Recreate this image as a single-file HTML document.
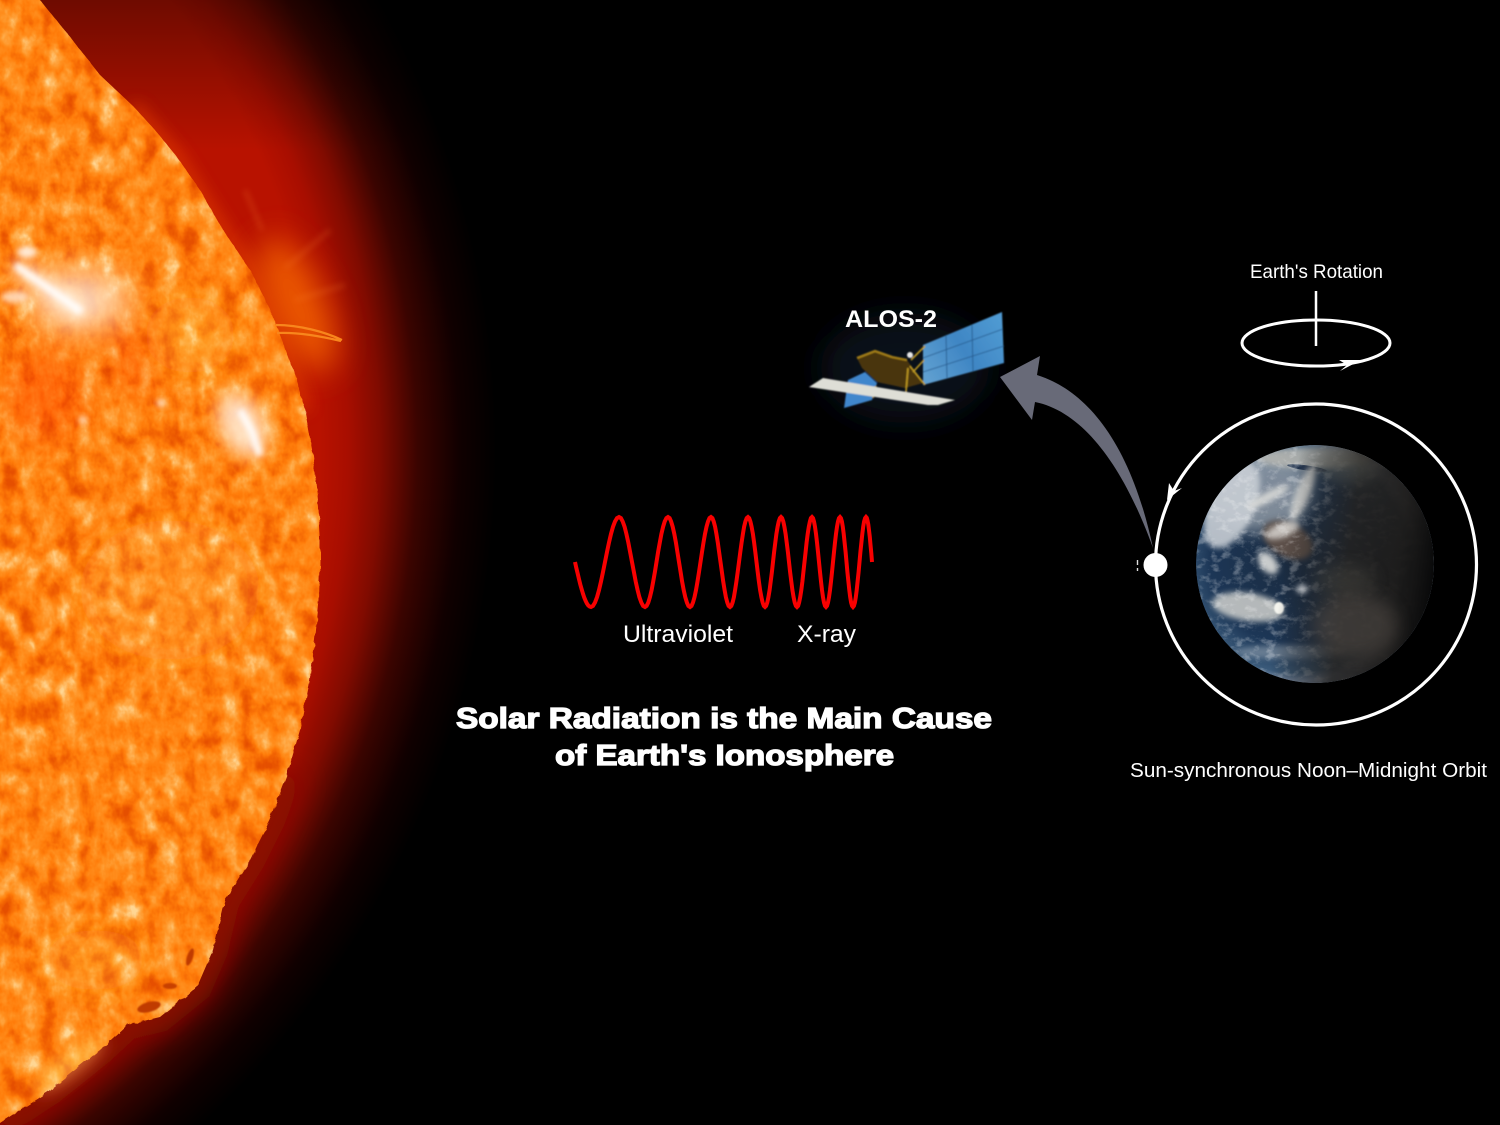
<!DOCTYPE html>
<html lang="en">
<head>
<meta charset="utf-8">
<title>Solar Radiation and Earth's Ionosphere</title>
<style>
html,body{margin:0;padding:0;background:#000;width:1500px;height:1125px;overflow:hidden}
svg{display:block}
text{font-family:"Liberation Sans",sans-serif;fill:#fff}
.mul{mix-blend-mode:multiply}
.scr{mix-blend-mode:screen}
</style>
</head>
<body>
<svg id="diagram" xmlns="http://www.w3.org/2000/svg" width="1500" height="1125" viewBox="0 0 1500 1125">
<defs>
  <radialGradient id="coronaGrad" gradientUnits="userSpaceOnUse" cx="-424" cy="450" r="930">
    <stop offset="0.75" stop-color="#b81200"/>
    <stop offset="0.80" stop-color="#b81200"/>
    <stop offset="0.83" stop-color="#a80e00"/>
    <stop offset="0.865" stop-color="#800b00"/>
    <stop offset="0.905" stop-color="#3a0400"/>
    <stop offset="0.95" stop-color="#100000"/>
    <stop offset="0.99" stop-color="#000"/>
  </radialGradient>
  <linearGradient id="topDarken" x1="0" y1="0" x2="0" y2="1">
    <stop offset="0" stop-color="#000" stop-opacity="0.4"/>
    <stop offset="1" stop-color="#000" stop-opacity="0"/>
  </linearGradient>
  <filter id="sunTexture" x="-5%" y="-5%" width="110%" height="110%" color-interpolation-filters="sRGB">
    <feTurbulence type="fractalNoise" baseFrequency="0.05 0.04" numOctaves="4" seed="23" result="noise"/>
    <feColorMatrix in="noise" type="matrix" values="0.95 0.95 0 0 -0.46  0.95 0.95 0 0 -0.46  0.95 0.95 0 0 -0.46  0 0 0 0 1"/>
    <feComponentTransfer result="colored">
      <feFuncR type="table" tableValues="0.90 0.95 1 1 1 1"/>
      <feFuncG type="table" tableValues="0.31 0.39 0.49 0.57 0.68 0.84"/>
      <feFuncB type="table" tableValues="0 0.01 0.04 0.13 0.30 0.58"/>
    </feComponentTransfer>
    <feTurbulence type="fractalNoise" baseFrequency="0.12" numOctaves="2" seed="5" result="edgeNoise"/>
    <feDisplacementMap in="SourceGraphic" in2="edgeNoise" scale="4" result="edge"/>
    <feComposite in="colored" in2="edge" operator="in"/>
  </filter>
  <filter id="blur1" x="-20%" y="-20%" width="140%" height="140%"><feGaussianBlur stdDeviation="0.7"/></filter>
  <filter id="blur3" x="-50%" y="-50%" width="200%" height="200%"><feGaussianBlur stdDeviation="3"/></filter>
  <filter id="blur8" x="-60%" y="-60%" width="220%" height="220%"><feGaussianBlur stdDeviation="8"/></filter>
  <filter id="blur16" x="-80%" y="-80%" width="260%" height="260%"><feGaussianBlur stdDeviation="16"/></filter>
  <filter id="blurLimb" x="-20%" y="-20%" width="140%" height="140%"><feGaussianBlur stdDeviation="14"/></filter>
  <filter id="cloudTexture" x="0" y="0" width="100%" height="100%" color-interpolation-filters="sRGB">
    <feTurbulence type="fractalNoise" baseFrequency="0.09 0.13" numOctaves="4" seed="7" result="noise"/>
    <feColorMatrix in="noise" type="matrix" values="0 0 0 0 1  0 0 0 0 1  0 0 0 0 1  3 3 0 0 -3"/>
    <feComposite in2="SourceAlpha" operator="in"/>
  </filter>
  <radialGradient id="oceanGrad" gradientUnits="userSpaceOnUse" cx="1295" cy="560" r="121">
    <stop offset="0" stop-color="#1a2a3e"/>
    <stop offset="0.7" stop-color="#1c3656"/>
    <stop offset="0.93" stop-color="#3a5a7a"/>
    <stop offset="1" stop-color="#7f93ae"/>
  </radialGradient>
  <linearGradient id="nightGrad" gradientUnits="userSpaceOnUse" x1="1285" y1="555" x2="1434" y2="575">
    <stop offset="0" stop-color="#1e1c1a" stop-opacity="0"/>
    <stop offset="0.2" stop-color="#22201e" stop-opacity="0.45"/>
    <stop offset="0.42" stop-color="#22201e" stop-opacity="0.88"/>
    <stop offset="0.75" stop-color="#1c1a18" stop-opacity="0.95"/>
    <stop offset="1" stop-color="#060606" stop-opacity="0.98"/>
  </linearGradient>
  <linearGradient id="panelGrad" gradientUnits="userSpaceOnUse" x1="925" y1="375" x2="1003" y2="325">
    <stop offset="0" stop-color="#5f9fd0"/>
    <stop offset="0.5" stop-color="#3f86c4"/>
    <stop offset="1" stop-color="#4f9ad2"/>
  </linearGradient>
  <clipPath id="earthClip"><circle cx="1315" cy="564" r="119"/></clipPath>
</defs>

<rect width="1500" height="1125" fill="#000"/>

<g>
  <rect x="0" y="0" width="700" height="1125" fill="url(#coronaGrad)"/>
  <rect x="0" y="0" width="700" height="150" fill="url(#topDarken)"/>
  <path d="M0,1123 L50,1090 L100,1050 L127,1025 L160,1017 L197,987 L213,950 L225,900 L250,860 L270,820 L287,775" fill="none" stroke="#8a0c00" stroke-width="30" filter="url(#blurLimb)"/>
  <path d="M133,106 L177,157 L220,225 L250,270 L282,340 L305,410" fill="none" stroke="#ea4400" stroke-width="10" opacity="0.75" filter="url(#blur8)"/>
  <ellipse cx="297" cy="305" rx="28" ry="72" fill="#f46400" opacity="0.85" filter="url(#blur16)" transform="rotate(-24 297 305)"/>
  <path d="M262,230 L245,190 M285,268 L330,230 M295,300 L345,285" stroke="#ff8a30" stroke-width="5" opacity="0.18" filter="url(#blur3)"/>
  <path id="sunDisc" d="M-12,-12 L32,-12 L40,0 L48,10 L67,33 L100,75 L133,106 L155,130 L177,157 L200,190 L220,225 L250,270 L268,305 L282,340 L295,375 L305,410 L313,455 L318,500 L320,535 L320,565 L319,600 L315,640 L309,685 L300,730 L287,775 L270,820 L250,860 L225,900 L213,950 L197,987 L160,1017 L127,1025 L100,1050 L50,1090 L0,1123 L-12,1123 Z" fill="#f07000" filter="url(#sunTexture)"/>
  <g>
    <ellipse class="mul" cx="45" cy="395" rx="40" ry="45" fill="#ffcc98" filter="url(#blur16)"/>
    <ellipse class="mul" cx="135" cy="355" rx="22" ry="40" fill="#ffd0a0" filter="url(#blur16)"/>
    <ellipse class="scr" cx="190" cy="335" rx="45" ry="38" fill="#502810" filter="url(#blur16)"/>
    <ellipse class="scr" cx="170" cy="590" rx="90" ry="70" fill="#301808" filter="url(#blur16)"/>
    <ellipse class="scr" cx="70" cy="1065" rx="42" ry="11" fill="#a06030" filter="url(#blur8)" transform="rotate(-38 70 1065)"/>
    <ellipse class="scr" cx="95" cy="960" rx="50" ry="30" fill="#402410" filter="url(#blur16)"/>
  </g>
  <ellipse cx="80" cy="300" rx="48" ry="30" fill="#ffe8d0" opacity="0.85" filter="url(#blur16)"/>
  <path d="M15,265 L48,288 L85,315" fill="none" stroke="#fff0e0" stroke-width="18" opacity="0.75" filter="url(#blur8)"/>
  <path d="M15,265 L48,288 L82,312" fill="none" stroke="#fff" stroke-width="8" opacity="0.9" filter="url(#blur3)"/>
  <ellipse cx="15" cy="297" rx="14" ry="6" fill="#fff" opacity="0.65" filter="url(#blur3)"/>
  <ellipse cx="27" cy="252" rx="10" ry="6" fill="#fff" opacity="0.8" filter="url(#blur3)"/>
  <ellipse cx="242" cy="425" rx="22" ry="34" fill="#ffecd8" opacity="0.85" filter="url(#blur8)" transform="rotate(-25 242 425)"/>
  <path d="M240,410 L252,432 L260,456" fill="none" stroke="#fff" stroke-width="8" opacity="0.9" filter="url(#blur3)"/>
  <circle cx="161" cy="403" r="4" fill="#fff" opacity="0.8" filter="url(#blur3)"/>
  <circle cx="83" cy="420" r="4" fill="#fff" opacity="0.7" filter="url(#blur3)"/>
  <ellipse cx="149" cy="1007" rx="12" ry="5" fill="#c03a00" transform="rotate(-15 149 1007)" filter="url(#blur1)"/>
  <ellipse cx="170" cy="986" rx="7" ry="3" fill="#c84000" filter="url(#blur1)"/>
  <ellipse cx="190" cy="957" rx="3" ry="9" fill="#c03a00" transform="rotate(18 190 957)" filter="url(#blur1)"/>
  <path d="M276,325 C300,325 325,332 342,340 M277,333 C298,332 320,336 341,341" fill="none" stroke="#f8861c" stroke-width="2.200"/>
</g>

<g>
  <path id="wave" fill="none" stroke="#f80000" stroke-width="4"/>
  <text x="623" y="642" font-size="24" textLength="110" lengthAdjust="spacingAndGlyphs">Ultraviolet</text>
  <text x="797" y="642" font-size="24" textLength="59" lengthAdjust="spacingAndGlyphs">X-ray</text>
</g>

<g>
  <text x="456" y="728" font-size="29" font-weight="700" stroke="#fff" stroke-width="1.300" textLength="536" lengthAdjust="spacingAndGlyphs">Solar Radiation is the Main Cause</text>
  <text x="555" y="765" font-size="29" font-weight="700" stroke="#fff" stroke-width="1.300" textLength="339" lengthAdjust="spacingAndGlyphs">of Earth's Ionosphere</text>
</g>

<g>
  <ellipse cx="905" cy="368" rx="85" ry="55" fill="#0a1220" opacity="0.75" filter="url(#blur16)"/>
  <g filter="url(#blur1)">
    <polygon points="848,380 865,372 877,383 872,400 844,408" fill="#3f86cc"/>
    <polygon points="923,345 1002,312 1004,363 923,385" fill="url(#panelGrad)"/>
    <path d="M946,335 L947,378 M972,325 L973,371 M923,358 L1003,329 M923,372 L1004,346" stroke="#24598c" stroke-width="0.900" fill="none"/>
    <polygon points="857,358 875,351 892,357 907,360 923,383 905,388 877,382 862,368" fill="#4a3610"/>
    <path d="M857,358 L875,351 L892,357 L907,360" fill="none" stroke="#a07c18" stroke-width="2.400"/>
    <path d="M911,360 L925,346 M913,372 L924,360 M906,392 L908,368 M910,366 L925,385 M873,398 L876,386" stroke="#c09a20" stroke-width="1.600" fill="none"/>
    <circle cx="910" cy="355" r="3" fill="#e8e8e8"/>
    <polygon points="809,387 823,378 955,400 938,405 928,405" fill="#deded6"/>
  </g>
  <text x="845" y="327" font-size="24" font-weight="700" textLength="92" lengthAdjust="spacingAndGlyphs">ALOS-2</text>
</g>

<path d="M1000,377 L1040,356 L1037,375 C1085,390 1130,440 1153,548 C1125,470 1085,412 1035,402 L1032,420 Z" fill="#686a78"/>

<g clip-path="url(#earthClip)">
  <circle cx="1315" cy="564" r="119" fill="url(#oceanGrad)"/>
  <ellipse cx="1258" cy="490" rx="55" ry="42" fill="#a8b0b8" opacity="0.7" filter="url(#blur8)"/>
  <ellipse cx="1232" cy="505" rx="23" ry="46" fill="#c8ced4" opacity="0.9" filter="url(#blur3)" transform="rotate(24 1232 505)"/>
  <ellipse cx="1315" cy="458" rx="58" ry="11" fill="#b8b8b2" opacity="0.85" filter="url(#blur3)"/>
  <ellipse cx="1307" cy="468" rx="20" ry="2.500" fill="#22344e" transform="rotate(8 1307 468)"/>
  <ellipse cx="1303" cy="493" rx="7" ry="30" fill="#dcdcd8" opacity="0.85" filter="url(#blur3)" transform="rotate(22 1303 493)"/>
  <ellipse cx="1268" cy="497" rx="24" ry="5" fill="#e0e0dc" opacity="0.85" filter="url(#blur3)" transform="rotate(-28 1268 497)"/>
  <ellipse cx="1288" cy="540" rx="27" ry="17" fill="#5c5048" transform="rotate(28 1288 540)" filter="url(#blur3)"/>
  <ellipse cx="1283" cy="530" rx="18" ry="7" fill="#e8e6e2" opacity="0.75" filter="url(#blur3)" transform="rotate(-20 1283 530)"/>
  <ellipse cx="1268" cy="563" rx="8" ry="13" fill="#e8e8e4" opacity="0.85" filter="url(#blur3)" transform="rotate(-38 1268 563)"/>
  <ellipse cx="1248" cy="607" rx="36" ry="14" fill="#e8e6de" opacity="0.75" filter="url(#blur3)" transform="rotate(8 1248 607)"/>
  <ellipse cx="1279" cy="608" rx="5" ry="6" fill="#f4f4ee" filter="url(#blur1)"/>
  <ellipse cx="1290" cy="652" rx="55" ry="7" fill="#a4b0bc" opacity="0.5" filter="url(#blur3)"/>
  <rect x="1190" y="440" width="250" height="250" fill="#fff" opacity="0.28" filter="url(#cloudTexture)"/>
  <circle cx="1315" cy="564" r="119" fill="url(#nightGrad)"/>
  <ellipse cx="1355" cy="625" rx="42" ry="32" fill="#57504a" opacity="0.5" filter="url(#blur8)"/>
  <ellipse cx="1345" cy="580" rx="30" ry="14" fill="#4a4640" opacity="0.45" filter="url(#blur8)"/>
  <ellipse cx="1345" cy="468" rx="32" ry="14" fill="#56564f" opacity="0.45" filter="url(#blur8)"/>
  <ellipse cx="1302" cy="589" rx="5" ry="4" fill="#fff" opacity="0.8" filter="url(#blur3)"/>
</g>

<g>
  <circle cx="1316" cy="564.5" r="160.5" fill="none" stroke="#fff" stroke-width="3.200"/>
  <path d="M1167,500 L1169,483 L1174,491 L1182,488 Z" fill="#fff"/>
  <circle cx="1155.500" cy="565" r="12" fill="#fff"/>
  <path d="M1137.500,560 V565 M1137.500,568 V571" stroke="#ddd" stroke-width="1.400"/>
  <text x="1130" y="777" font-size="20" textLength="357" lengthAdjust="spacingAndGlyphs">Sun-synchronous Noon–Midnight Orbit</text>
</g>

<g>
  <text x="1250" y="278" font-size="19.500" textLength="133" lengthAdjust="spacingAndGlyphs">Earth's Rotation</text>
  <line x1="1316" y1="291" x2="1316" y2="346" stroke="#fff" stroke-width="2.500"/>
  <ellipse cx="1316" cy="343" rx="74" ry="23" fill="none" stroke="#fff" stroke-width="3"/>
  <path d="M1361,360 L1340,371 L1347,365 L1339,360 Z" fill="#fff"/>
</g>

<script>
// Half-cycle widths of the schematic wave, left to right: the wavelength shortens toward X-ray.
var halfCycleWidths = [28, 26, 23, 22, 21, 19, 18, 17, 16, 16, 15, 14, 14, 13, 13];
var waveAmplitude = 45;
var firstExtremeOffset = 16;
var tailOffset = 6;

function waveX(d) { return 575 + d; }
function waveY(v) { return 562 + v * waveAmplitude; }

(function () {
  var pts = [];
  var x = firstExtremeOffset;
  var sign = 1;
  for (var i = 0; i <= 12; i++) {
    var t = i / 12;
    pts.push([waveX(firstExtremeOffset * t), waveY(Math.sin(t * Math.PI / 2))]);
  }
  halfCycleWidths.forEach(function (w) {
    for (var j = 1; j <= 14; j++) {
      var u = j / 14;
      pts.push([waveX(x + w * u), waveY(sign * Math.cos(u * Math.PI))]);
    }
    x += w;
    sign = -sign;
  });
  for (var k = 1; k <= 8; k++) {
    var q = k / 8;
    pts.push([waveX(x + tailOffset * q), waveY(sign * Math.cos(q * Math.PI / 2))]);
  }
  var d = pts.map(function (p, idx) {
    return (idx ? 'L' : 'M') + p[0].toFixed(1) + ' ' + p[1].toFixed(1);
  }).join(' ');
  document.getElementById('wave').setAttribute('d', d);
})();
</script>
</svg>
</body>
</html>
